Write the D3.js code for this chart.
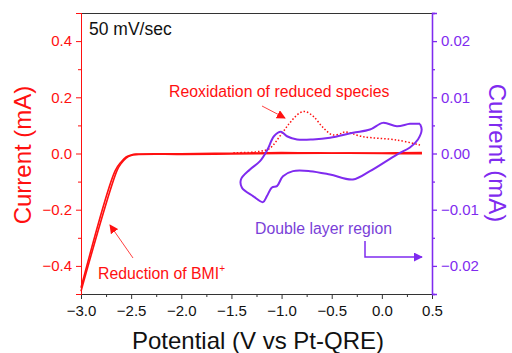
<!DOCTYPE html>
<html>
<head>
<meta charset="utf-8">
<script src="https://cdn.jsdelivr.net/npm/d3@7"></script>
<style>
  html, body { margin: 0; padding: 0; background: #fff; }
  svg { display: block; font-family: Arial, 'Liberation Sans', sans-serif; }
</style>
</head>
<body>
<svg id="chart" width="512" height="353"></svg>
<script>
// --- data ---
const potentialTicks = [-3.0, -2.5, -2.0, -1.5, -1.0, -0.5, 0.0, 0.5];
const leftTicks = [-0.4, -0.2, 0.0, 0.2, 0.4];
const rightTicks = [-0.02, -0.01, 0.0, 0.01, 0.02];

// wide window CV (left axis, mA): outgoing and returning sweeps
const redSweepOut = [
  [0.40, 0.003], [0.0, 0.002], [-0.5, 0.001], [-1.0, 0.000], [-1.5, -0.002],
  [-2.0, -0.003], [-2.45, -0.004], [-2.50, -0.007], [-2.55, -0.016], [-2.60, -0.036],
  [-2.64, -0.060], [-3.0, -0.490]
];
const redSweepBack = [
  [-3.0, -0.478], [-2.66, -0.062], [-2.60, -0.030], [-2.55, -0.012], [-2.50, -0.005],
  [-2.45, -0.002], [-2.0, -0.001], [-1.5, 0.001], [-1.0, 0.003], [-0.5, 0.002],
  [0.0, 0.000], [0.40, -0.001]
];
// reoxidation hump (dotted, left axis)
const reoxidation = [
  [-1.48, 0.003], [-1.25, 0.006], [-1.12, 0.018], [-1.02, 0.060], [-0.92, 0.108],
  [-0.82, 0.144], [-0.76, 0.149], [-0.68, 0.131], [-0.58, 0.090], [-0.49, 0.066],
  [-0.40, 0.072], [-0.37, 0.077], [-0.19, 0.060], [0.15, 0.048], [0.38, 0.030]
];
// double layer loop (right axis, mA)
const purpleLoop = [
  [0.380, 0.00528], [0.280, 0.00528], [0.150, 0.00485], [0.011, 0.00545],
  [-0.119, 0.00426], [-0.288, 0.00368], [-0.517, 0.00279], [-0.687, 0.00249],
  [-0.846, 0.00249], [-0.946, 0.00307], [-1.006, 0.00385], [-1.076, 0.00307],
  [-1.140, 0.00071], [-1.215, -0.00137], [-1.315, -0.00284], [-1.405, -0.00462],
  [-1.395, -0.00609], [-1.285, -0.00758], [-1.185, -0.00865], [-1.146, -0.00758],
  [-1.096, -0.00604], [-1.046, -0.00581], [-0.986, -0.00403], [-0.886, -0.00314],
  [-0.717, -0.00314], [-0.517, -0.00373], [-0.288, -0.00462], [-0.119, -0.00314],
  [0.150, -0.00018], [0.280, 0.00107], [0.360, 0.00249], [0.397, 0.00426],
  [0.380, 0.00528]
];

const RED = '#ff1010';
const PURPLE = '#7f2bef';
const FONT = 'Arial, Liberation Sans, sans-serif';

const svg = d3.select('#chart');
const m = { left: 81, right: 432, top: 13, bottom: 294 };

const x = d3.scaleLinear().domain([-3.0, 0.5]).range([m.left, m.right]);
const yL = d3.scaleLinear().domain([-0.5, 0.5]).range([m.bottom, m.top]);
const yR = d3.scaleLinear().domain([-0.025, 0.025]).range([m.bottom, m.top]);

const fmt1 = d3.format('.1f');
const fmt2 = d3.format('.2f');

// top frame line
svg.append('line')
  .attr('x1', m.left).attr('x2', m.right)
  .attr('y1', m.top + 0.5).attr('y2', m.top + 0.5)
  .attr('stroke', '#333').attr('stroke-width', 1);

// bottom axis
const xAxis = svg.append('g')
  .attr('transform', `translate(0,${m.bottom})`)
  .call(d3.axisBottom(x).tickValues(potentialTicks).tickFormat(fmt1).tickSize(5).tickPadding(6));
xAxis.append('g')
  .call(d3.axisBottom(x).tickValues(d3.range(-2.75, 0.5, 0.5)).tickFormat('').tickSize(3));
xAxis.selectAll('path, line').attr('stroke', '#333');
xAxis.selectAll('text').attr('font-size', 15).attr('fill', '#111').attr('font-family', FONT);

// left axis
const lAxis = svg.append('g')
  .attr('transform', `translate(${m.left},0)`)
  .call(d3.axisLeft(yL).tickValues(leftTicks).tickFormat(fmt1).tickSize(5).tickPadding(4));
lAxis.append('g')
  .call(d3.axisLeft(yL).tickValues([-0.3, -0.1, 0.1, 0.3]).tickFormat('').tickSize(3));
lAxis.selectAll('path, line').attr('stroke', RED);
lAxis.selectAll('text').attr('font-size', 15).attr('fill', RED).attr('font-family', FONT);

// right axis
const rAxis = svg.append('g')
  .attr('transform', `translate(${m.right},0)`)
  .call(d3.axisRight(yR).tickValues(rightTicks).tickFormat(fmt2).tickSize(5).tickPadding(4));
rAxis.append('g')
  .call(d3.axisRight(yR).tickValues([-0.015, -0.005, 0.005, 0.015]).tickFormat('').tickSize(3));
rAxis.selectAll('path, line').attr('stroke', PURPLE).attr('stroke-width', 1.3);
rAxis.selectAll('text').attr('font-size', 15).attr('fill', PURPLE).attr('font-family', FONT);

// curves
const lineL = d3.line().x(d => x(d[0])).y(d => yL(d[1])).curve(d3.curveCatmullRom.alpha(0.5));
const lineR = d3.line().x(d => x(d[0])).y(d => yR(d[1])).curve(d3.curveCatmullRom.alpha(0.5));

[redSweepOut, redSweepBack].forEach(s => {
  svg.append('path').attr('d', lineL(s))
    .attr('fill', 'none').attr('stroke', RED).attr('stroke-width', 1.6);
});

svg.append('path').attr('d', lineL(reoxidation))
  .attr('fill', 'none').attr('stroke', RED).attr('stroke-width', 1.5)
  .attr('stroke-dasharray', '1.5,2');

svg.append('path').attr('d', lineR(purpleLoop))
  .attr('fill', 'none').attr('stroke', PURPLE).attr('stroke-width', 2)
  .attr('stroke-linejoin', 'round');

// arrow markers
const defs = svg.append('defs');
function marker(id, color) {
  defs.append('marker')
    .attr('id', id).attr('viewBox', '0 0 10 10')
    .attr('refX', 9).attr('refY', 5)
    .attr('markerWidth', 9).attr('markerHeight', 9)
    .attr('markerUnits', 'userSpaceOnUse')
    .attr('orient', 'auto')
    .append('path').attr('d', 'M0,0 L10,5 L0,10 Z').attr('fill', color);
}
marker('arrRed', RED);
marker('arrPurple', PURPLE);

// annotations
svg.append('text').attr('x', 89).attr('y', 35)
  .attr('font-size', 17.5).attr('fill', '#111').text('50 mV/sec');

svg.append('text').attr('x', 169).attr('y', 97)
  .attr('font-size', 15.8).attr('fill', RED).text('Reoxidation of reduced species');
svg.append('line')
  .attr('x1', 262).attr('y1', 106).attr('x2', 285).attr('y2', 118)
  .attr('stroke', RED).attr('stroke-width', 0.8).attr('marker-end', 'url(#arrRed)');

const red2 = svg.append('text').attr('x', 98).attr('y', 279)
  .attr('font-size', 15.8).attr('fill', RED);
red2.append('tspan').text('Reduction of BMI');
red2.append('tspan').attr('font-size', 10).attr('dy', -7).text('+');
svg.append('line')
  .attr('x1', 133).attr('y1', 258).attr('x2', 110).attr('y2', 225)
  .attr('stroke', RED).attr('stroke-width', 0.8).attr('marker-end', 'url(#arrRed)');

svg.append('text').attr('x', 255).attr('y', 234)
  .attr('font-size', 15.8).attr('fill', '#7a3fd8').text('Double layer region');
svg.append('path')
  .attr('d', 'M365,241 L365,257 L422,257')
  .attr('fill', 'none').attr('stroke', PURPLE).attr('stroke-width', 1.5)
  .attr('marker-end', 'url(#arrPurple)');

// axis titles
svg.append('text')
  .attr('transform', `translate(31,155) rotate(-90)`)
  .attr('text-anchor', 'middle').attr('font-size', 24).attr('fill', RED)
  .text('Current (mA)');
svg.append('text')
  .attr('transform', `translate(489,153) rotate(90)`)
  .attr('text-anchor', 'middle').attr('font-size', 24).attr('fill', PURPLE)
  .text('Current (mA)');
svg.append('text')
  .attr('x', 258).attr('y', 349)
  .attr('text-anchor', 'middle').attr('font-size', 24).attr('fill', '#111')
  .text('Potential (V vs Pt-QRE)');
</script>
</body>
</html>
